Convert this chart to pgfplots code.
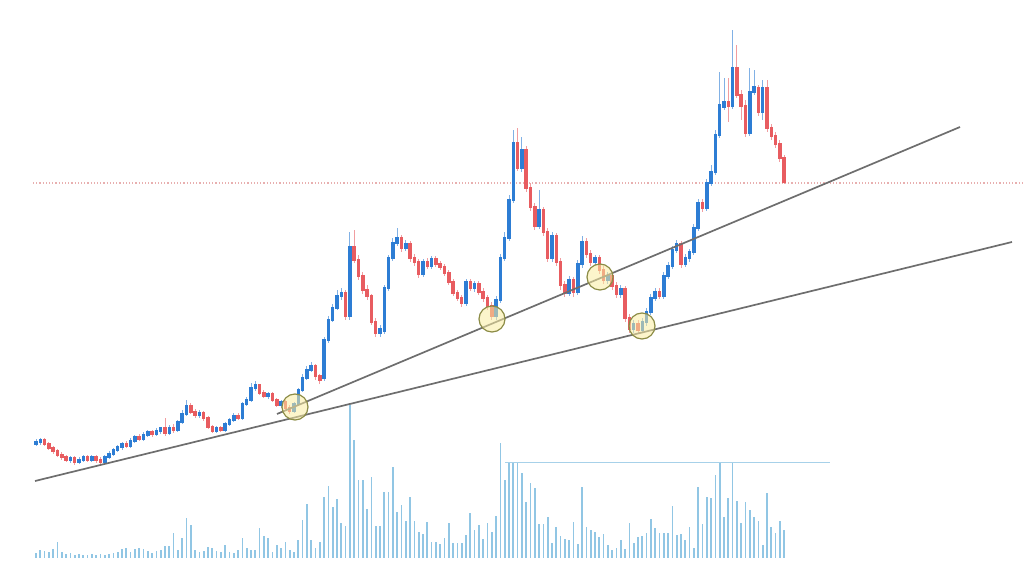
\documentclass[border=0pt]{standalone}
\usepackage{pgfplots}
\usepackage{pgfplotstable}
\pgfplotsset{compat=1.18}
\definecolor{cblue}{RGB}{45,125,212}
\definecolor{cred}{RGB}{232,92,96}
\definecolor{vblue}{RGB}{145,198,228}
\definecolor{tline}{RGB}{110,110,110}
\definecolor{dotred}{RGB}{232,175,175}
\definecolor{circfill}{RGB}{250,236,160}
\definecolor{circdraw}{RGB}{140,140,70}
\pgfplotstableread{
i o h l c v
0 444 439 446 442 553
1 442 438 445 440 550
2 440 438 446 444 551
3 444 442 450 448 552
4 448 446 454 451 549
5 451 449 457 455 542
6 455 452 460 457 552
7 457 455 462 460 554
8 460 456 463 458 553
9 458 456 465 462 555
10 462 457 464 460 554
11 460 455 462 457 555
12 457 455 462 460 555
13 460 455 462 457 554
14 457 455 463 460 555
15 460 457 464 462 554
16 462 455 464 457 555
17 457 451 459 454 554
18 454 448 456 450 553
19 450 445 452 447 552
20 447 442 450 444 549
21 444 441 448 446 548
22 446 438 448 441 552
23 441 435 443 437 549
24 437 434 441 439 548
25 439 432 441 435 549
26 435 430 437 432 551
27 432 430 437 434 553
28 434 428 436 431 551
29 431 427 434 428 550
30 428 418 436 433 546
31 433 425 435 428 546
32 428 424 433 430 533
33 430 420 432 422 550
34 422 410 424 414 538
35 414 400 416 406 518
36 406 403 414 412 525
37 412 409 418 415 550
38 415 410 418 413 552
39 413 411 421 418 551
40 418 416 429 427 547
41 427 425 433 431 548
42 431 426 433 428 551
43 428 426 432 430 552
44 430 422 432 424 545
45 424 418 426 420 552
46 420 413 422 416 553
47 416 413 420 418 550
48 418 402 420 404 538
49 404 397 406 400 548
50 400 383 402 388 550
51 388 381 391 385 550
52 385 384 395 393 528
53 393 390 398 396 536
54 396 392 399 394 538
55 394 392 402 400 552
56 400 398 407 405 545
57 405 400 408 402 548
58 402 400 411 408 542
59 408 405 414 411 550
60 411 402 413 404 552
61 404 388 406 390 540
62 390 374 392 378 520
63 378 366 380 370 504
64 370 362 372 366 540
65 366 364 380 376 548
66 376 374 384 380 542
67 378 337 381 340 497
68 340 316 343 320 486
69 320 304 322 308 507
70 308 290 310 296 499
71 296 288 300 293 523
72 293 290 320 316 526
73 316 232 320 247 405
74 247 230 263 260 440
75 260 255 280 276 480
76 276 272 294 290 480
77 290 285 300 296 509
78 296 294 325 322 477
79 322 318 337 333 526
80 333 325 337 329 526
81 331 285 334 288 492
82 288 255 291 258 492
83 258 238 261 243 467
84 243 228 246 238 512
85 238 235 252 248 505
86 248 240 251 244 521
87 244 241 262 258 497
88 258 254 266 262 521
89 262 259 278 274 532
90 274 259 277 262 534
91 262 258 269 266 522
92 266 256 269 259 542
93 259 256 267 264 542
94 264 261 270 267 544
95 267 264 276 273 538
96 273 270 285 282 523
97 282 279 296 293 543
98 293 290 301 298 543
99 298 295 307 303 543
100 303 279 306 282 535
101 282 279 291 288 513
102 288 281 292 284 530
103 284 281 295 292 525
104 292 288 302 298 539
105 298 295 310 306 523
106 306 302 320 316 532
107 316 296 320 300 516
108 300 254 303 258 443
109 258 232 261 238 480
110 238 195 241 200 463
111 200 130 203 143 463
112 143 128 171 168 463
113 168 137 172 150 473
114 150 146 192 188 502
115 188 183 211 207 483
116 207 203 230 226 488
117 226 190 229 210 524
118 210 207 236 232 524
119 232 228 262 258 517
120 258 232 262 236 543
121 236 233 266 262 527
122 262 258 290 285 536
123 285 281 297 293 539
124 293 276 296 280 540
125 280 277 297 292 522
126 292 260 295 264 544
127 264 236 268 242 487
128 242 238 258 254 527
129 254 250 266 262 530
130 262 255 266 258 532
131 258 255 274 270 537
132 270 266 284 280 534
133 280 272 284 276 545
134 276 273 290 286 550
135 286 282 298 294 548
136 294 285 298 289 540
137 289 286 322 318 549
138 318 314 333 329 523
139 329 320 333 324 543
140 324 320 334 330 537
141 330 318 333 322 536
142 322 308 326 312 533
143 312 294 315 298 519
144 298 288 301 292 528
145 292 288 299 296 533
146 296 272 299 276 533
147 276 262 279 266 533
148 266 246 269 250 506
149 250 240 253 244 535
150 244 241 268 264 534
151 264 254 267 258 540
152 258 249 262 252 527
153 252 224 255 228 548
154 228 199 231 203 487
155 203 199 212 208 524
156 208 179 211 183 497
157 183 165 186 172 498
158 172 130 175 135 475
159 135 72 138 105 463
160 107 78 110 102 517
161 102 78 122 106 498
162 106 30 109 68 463
163 68 45 98 95 501
164 95 90 120 106 523
165 106 100 137 133 502
166 133 68 136 92 510
167 92 70 95 87 517
168 88 85 116 112 521
169 112 80 120 88 545
170 88 80 132 128 493
171 128 124 140 136 527
172 136 132 148 144 533
173 144 140 162 158 521
174 158 155 184 182 530
}\ohlc
\begin{document}
\begin{tikzpicture}
\begin{axis}[
  scale only axis, width=512pt, height=293.5pt,
  xmin=0, xmax=1024, ymin=0, ymax=587, y dir=reverse,
  axis line style={draw=none}, ticks=none, clip=true,
]
% dotted horizontal level
\addplot[dotred, line width=0.6pt, densely dotted, mark=none] coordinates {(33,183) (1024,183)};
% volume
\addplot[draw=none, mark=none, forget plot,
  error bars/.cd, y dir=both, y explicit, error mark=none,
  error bar style={draw=vblue, line width=0.85pt}]
  table[x expr=36+4.3*\thisrow{i}, y expr={(558+\thisrow{v})/2}, y error expr={(558-\thisrow{v})/2}] {\ohlc};
\addplot[vblue!80, line width=0.5pt, mark=none] coordinates {(505,463) (830,463)};
% wicks blue
\addplot[draw=none, mark=none, forget plot,
  restrict expr to domain={\thisrow{o}-\thisrow{c}}{0:1000},
  error bars/.cd, y dir=both, y explicit, error mark=none,
  error bar style={draw=cblue!60, line width=0.5pt}]
  table[x expr=36+4.3*\thisrow{i}, y expr={(\thisrow{h}+\thisrow{l})/2}, y error expr={(\thisrow{l}-\thisrow{h})/2}] {\ohlc};
% wicks red
\addplot[draw=none, mark=none, forget plot,
  restrict expr to domain={\thisrow{c}-\thisrow{o}}{0.5:1000},
  error bars/.cd, y dir=both, y explicit, error mark=none,
  error bar style={draw=cred!60, line width=0.5pt}]
  table[x expr=36+4.3*\thisrow{i}, y expr={(\thisrow{h}+\thisrow{l})/2}, y error expr={(\thisrow{l}-\thisrow{h})/2}] {\ohlc};
% bodies blue
\addplot[draw=none, mark=none, forget plot,
  restrict expr to domain={\thisrow{o}-\thisrow{c}}{0:1000},
  error bars/.cd, y dir=both, y explicit, error mark=none,
  error bar style={draw=cblue, line width=1.75pt}]
  table[x expr=36+4.3*\thisrow{i}, y expr={(\thisrow{o}+\thisrow{c})/2}, y error expr={abs(\thisrow{c}-\thisrow{o})/2+0.6}] {\ohlc};
% bodies red
\addplot[draw=none, mark=none, forget plot,
  restrict expr to domain={\thisrow{c}-\thisrow{o}}{0.5:1000},
  error bars/.cd, y dir=both, y explicit, error mark=none,
  error bar style={draw=cred, line width=1.75pt}]
  table[x expr=36+4.3*\thisrow{i}, y expr={(\thisrow{o}+\thisrow{c})/2}, y error expr={abs(\thisrow{c}-\thisrow{o})/2+0.6}] {\ohlc};
% trend lines
\addplot[tline, line width=0.85pt, mark=none] coordinates {(35,481) (1012,242)};
\addplot[tline, line width=0.85pt, mark=none] coordinates {(277,414) (960,127)};
% touch circles
\addplot[only marks, mark=*, mark size=6.5pt,
  mark options={fill=circfill, fill opacity=0.55, draw=circdraw, line width=0.6pt}]
  coordinates {(295,407) (492,319) (600,277) (642,326)};
\end{axis}
\end{tikzpicture}
\end{document}
